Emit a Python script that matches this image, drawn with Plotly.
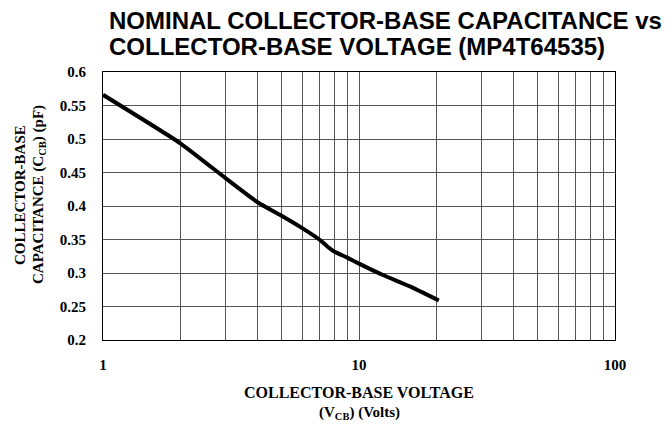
import plotly.graph_objects as go

# Data
vcb = [1, 2, 3, 4, 5, 6, 7, 7.5, 8, 9, 10, 12.4, 15.8, 20.5]
ccb = [0.566, 0.494, 0.442, 0.406, 0.385, 0.367, 0.350, 0.340, 0.332, 0.323, 0.314, 0.297, 0.280, 0.259]

x_ticks = [1, 10, 100]
x_tick_labels = ["1", "10", "100"]
y_ticks = [0.2, 0.25, 0.3, 0.35, 0.4, 0.45, 0.5, 0.55, 0.6]
y_tick_labels = ["0.2", "0.25", "0.3", "0.35", "0.4", "0.45", "0.5", "0.55", "0.6"]
x_minor = [2, 3, 4, 5, 6, 7, 8, 9, 20, 30, 40, 50, 60, 70, 80, 90]

title_lines = ["NOMINAL COLLECTOR-BASE CAPACITANCE vs", "COLLECTOR-BASE VOLTAGE (MP4T64535)"]
y_title_lines = ["COLLECTOR-BASE", "CAPACITANCE (C<sub>CB</sub>) (pF)"]
x_title_lines = ["COLLECTOR-BASE VOLTAGE", "(V<sub>CB</sub>) (Volts)"]

serif = "Liberation Serif, Times New Roman, serif"
sans = "Liberation Sans, Arial, sans-serif"

L, R, T, B = 103, 615, 72, 340
PW, PH = R - L, B - T

def px_x(x):
    return (x - L) / PW

def px_y(y):
    return (B - y) / PH

fig = go.Figure()
fig.add_trace(go.Scatter(x=vcb, y=ccb, mode="lines",
                         line=dict(color="black", width=4, shape="spline", smoothing=0.4),
                         showlegend=False, hoverinfo="skip"))

grid_col = "#555555"
tick_font = dict(family=serif, size=15, color="black")
fig.update_xaxes(type="log", range=[0, 2],
                 tickvals=x_ticks, ticktext=["<b>" + t + "</b>" for t in x_tick_labels],
                 showgrid=True, gridcolor=grid_col, gridwidth=1,
                 minor=dict(tickvals=x_minor, showgrid=True, gridcolor=grid_col, gridwidth=1, ticks=""),
                 ticks="", ticklabelstandoff=11,
                 showline=True, linecolor="black", linewidth=1, mirror=True,
                 tickfont=tick_font, zeroline=False)
fig.update_yaxes(range=[0.2, 0.6], tickvals=y_ticks, ticktext=["<b>" + t + "</b>" for t in y_tick_labels],
                 showgrid=True, gridcolor=grid_col, gridwidth=1,
                 ticks="", ticklabelstandoff=13,
                 showline=True, linecolor="black", linewidth=1, mirror=True,
                 tickfont=tick_font, zeroline=False)

fig.update_layout(
    width=670, height=424,
    margin=dict(l=L, r=670 - R, t=T, b=424 - B),
    plot_bgcolor="white", paper_bgcolor="white",
)

# Title (two lines)
for txt, yc in zip(title_lines, [21, 46]):
    fig.add_annotation(text="<b>" + txt + "</b>", xref="paper", yref="paper",
                       x=px_x(107), y=px_y(yc), xanchor="left", yanchor="middle",
                       showarrow=False, font=dict(family=sans, size=24, color="black"))

# Y axis title (two rotated lines)
for txt, xc in zip(y_title_lines, [20, 39]):
    fig.add_annotation(text="<b>" + txt + "</b>", xref="paper", yref="paper",
                       x=px_x(xc), y=px_y(195), xanchor="center", yanchor="middle",
                       textangle=-90, showarrow=False,
                       font=dict(family=serif, size=15, color="black"))

# X axis title (two lines)
for txt, yc, sz in zip(x_title_lines, [392, 413], [16, 15]):
    fig.add_annotation(text="<b>" + txt + "</b>", xref="paper", yref="paper",
                       x=0.5, y=px_y(yc), xanchor="center", yanchor="middle",
                       showarrow=False, font=dict(family=serif, size=sz, color="black"))

fig.write_html("out.html", config={"displayModeBar": False})

# remove default browser body margin so the figure sits at the window origin
with open("out.html", "r", encoding="utf-8") as f:
    html = f.read()
html = html.replace("<body>", '<body style="margin:0;padding:0;">', 1)
with open("out.html", "w", encoding="utf-8") as f:
    f.write(html)
